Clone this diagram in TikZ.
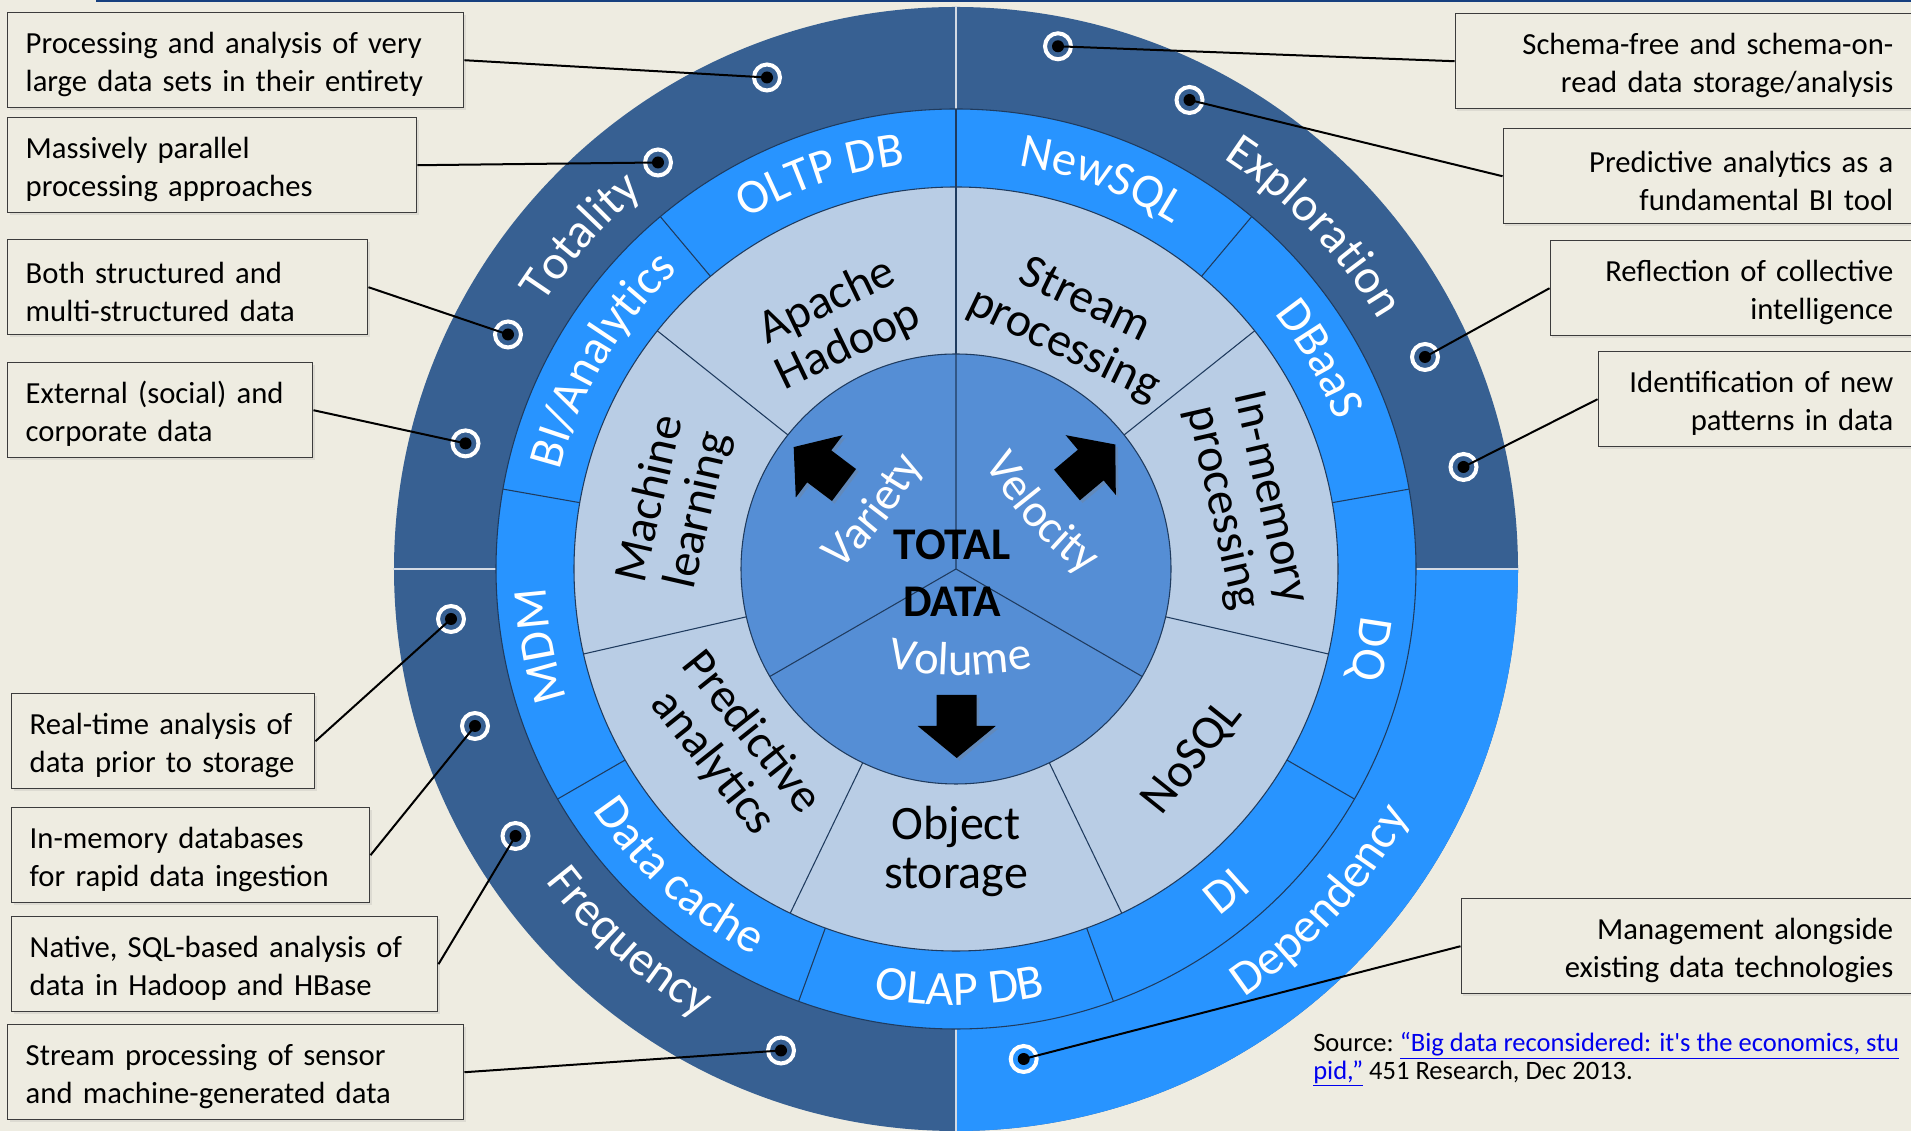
\documentclass[tikz,border=0pt]{standalone}
\usepackage{fontspec}
\setmainfont{Carlito}
\newfontfamily\srcfamily{Carlito}[Ligatures=TeXOff]
\usetikzlibrary{decorations.text,shadows}

\definecolor{bgtan}{HTML}{EEECE1}
\definecolor{ringdark}{HTML}{376092}
\definecolor{ringbright}{HTML}{2894FF}
\definecolor{ringlight}{HTML}{B9CDE5}
\definecolor{core}{HTML}{558ED5}
\definecolor{edge}{HTML}{1F3B5E}
\definecolor{gapcol}{HTML}{D3DAE4}
\definecolor{topbar}{HTML}{17407F}
\definecolor{boxedge}{HTML}{3C3C3C}
\definecolor{linkblue}{HTML}{0000EE}

\newcommand\boxfont{\fontsize{23}{28.5}\selectfont}
\newcommand\ringfont{\fontsize{36.5}{36.5}\selectfont}
\newcommand\segfont{\fontsize{36}{36.75}\selectfont}
\newcommand\corefont{\fontsize{34}{43}\selectfont\bfseries}
\newcommand\vfont{\fontsize{35}{35}\selectfont}
\newcommand\srcfont{\srcfamily\fontsize{19.9}{21}\selectfont}

% block arrow: tail at (#1,#2), pointing along angle #3
\newcommand\blockarrow[3]{%
  \fill[black, drop shadow={opacity=0.3, shadow xshift=2pt, shadow yshift=-2pt},
        shift={(#1,#2)}, rotate=#3]
    (0,-20) -- (31,-20) -- (31,-39) -- (63,0) -- (31,39) -- (31,20) -- (0,20) -- cycle;}

\tikzset{
  lbox/.style={draw=boxedge, line width=1.1pt, fill=bgtan, inner xsep=13.5pt,
    inner ysep=0pt, minimum height=71.25pt, align=left, font=\boxfont,
    anchor=north west, execute at begin node={\rule{0pt}{22.5pt}},
    drop shadow={opacity=0.15, shadow xshift=1.5pt, shadow yshift=-1.5pt}},
  rbox/.style={lbox, align=right, anchor=north east},
  dotring/.style={circle, draw=white, line width=3pt, fill=ringdark,
    minimum size=19.5pt, inner sep=0pt},
  conn/.style={draw=black, line width=1.5pt},
  divider/.style={draw=edge, line width=0.8pt},
  gapline/.style={draw=gapcol, line width=1.9pt},
  ringtext/.style={decorate, decoration={text along path, text align=center,
    text={|\ringfont\color{white}|#1}}},
  coretext/.style={decorate, decoration={text along path, text align=center,
    text={|\vfont\color{white}|#1}}},
  segtext/.style={font=\segfont, align=center, inner sep=0pt},
}

\begin{document}
\begin{tikzpicture}[x=0.75pt,y=0.75pt]
\useasboundingbox (0,0) rectangle (1911,1131);
\clip (0,0) rectangle (1911,1131);
\fill[bgtan] (0,0) rectangle (1911,1131);
\fill[topbar] (96,1128.5) rectangle (1911,1131);

% ---------------- wheel ----------------
\begin{scope}[shift={(956,562)}]
  % outer ring quadrants
  \fill[ringdark] (0,0) circle[radius=562];
  \fill[ringbright] (0,0) -- (0:562) arc[start angle=0, end angle=-90, radius=562] -- cycle;
  \foreach \a in {0,90,180,270} \draw[gapline] (\a:450) -- (\a:563);
  % technology ring
  \fill[ringbright, divider] (0,0) circle[radius=460];
  % application ring
  \fill[ringlight, divider] (0,0) circle[radius=382];
  % core
  \fill[core, divider] (0,0) circle[radius=215];
  % dividers
  \foreach \a in {90,50,10,-30,-70,-110,-150,170,130}
    \draw[divider] (\a:382) -- (\a:460);
  \foreach \k in {0,...,6}
    \draw[divider] ({90+\k*360/7}:215) -- ({90+\k*360/7}:382);
  \draw[divider] (0,0) -- (90:215) (0,0) -- (-30:215) (0,0) -- (210:215);

  % outer ring labels
  \path[ringtext={Totality}] (183.5:490) arc[start angle=183.5, end angle=93.5, radius=490];
  \path[ringtext={Exploration}] (88.7:490) arc[start angle=88.7, end angle=-1.3, radius=490];
  \path[ringtext={Frequency}] (183.8:516) arc[start angle=183.8, end angle=273.8, radius=516];
  \path[ringtext={Dependency}] (-87.3:516) arc[start angle=-87.3, end angle=2.7, radius=516];

  % technology ring labels
  \path[ringtext={OLTP DB}] (139:408) arc[start angle=139, end angle=79, radius=408];
  \path[ringtext={NewSQL}] (99.5:408) arc[start angle=99.5, end angle=39.5, radius=408];
  \path[ringtext={DBaaS}] (60:408) arc[start angle=60, end angle=0, radius=408];
  \path[ringtext={DQ}] (19:408) arc[start angle=19, end angle=-41, radius=408];
  \path[ringtext={DI}] (-80:436) arc[start angle=-80, end angle=-20, radius=436];
  \path[ringtext={OLAP DB}] (-119.5:436) arc[start angle=-119.5, end angle=-59.5, radius=436];
  \path[ringtext={Data cache}] (198:436) arc[start angle=198, end angle=258, radius=436];
  \path[ringtext={MDM}] (220.5:410) arc[start angle=220.5, end angle=160.5, radius=410];
  \path[ringtext={BI/Analytics}] (179.5:408) arc[start angle=179.5, end angle=119.5, radius=408];

  % application ring labels
  \node[segtext, rotate=25.7] (hadoop) at (115.7:272) {Apache\\Hadoop};
  \node[segtext, rotate=-25.7] (stream) at (64.3:272) {Stream\\processing};
  \node[segtext, rotate=-77.14] (inmem) at (12.86:297) {In-memory\\processing};
  \node[segtext, rotate=51.43] (nosql) at (-38.57:303) {NoSQL};
  \node[segtext] (objstore) at (-90:282) {Object\\storage};
  \node[segtext, rotate=-51.43] (predict) at (218.57:287) {Predictive\\analytics};
  \node[segtext, rotate=77.14] (mlearn) at (167.14:288) {Machine\\learning};
\end{scope}

% ---------------- core ----------------
\blockarrow{844}{646}{143}
\blockarrow{1067}{646}{40}
\blockarrow{956.7}{436}{-90}
\node[font=\corefont, align=center, inner sep=0pt] (total) at (952,558) {TOTAL\\DATA};
% the three V words, gently arched
\begin{scope}[shift={(610,825.3)}]
  \path[coretext={Variety}] (-68:350) arc[start angle=-68, end angle=-8, radius=350];
\end{scope}
\begin{scope}[shift={(1289,840.2)}]
  \path[coretext={Velocity}] (192:350) arc[start angle=192, end angle=252, radius=350];
\end{scope}
\begin{scope}[shift={(960,806)}]
  \path[coretext={Volume}] (240:350) arc[start angle=240, end angle=300, radius=350];
\end{scope}

% ---------------- call-out boxes ----------------
\node[lbox, text width=315pt] (b1) at (7,1119)
  {\mbox{Processing and analysis of very}\\\mbox{large data sets in their entirety}};
\node[lbox, text width=279.75pt] (b2) at (7,1014)
  {\mbox{Massively parallel}\\\mbox{processing approaches}};
\node[lbox, text width=243pt] (b3) at (7,892)
  {\mbox{Both structured and}\\\mbox{multi-structured data}};
\node[lbox, text width=201.75pt] (b4) at (7,769)
  {\mbox{External (social) and}\\\mbox{corporate data}};
\node[lbox, text width=200.25pt] (b5) at (11,438)
  {\mbox{Real-time analysis of}\\\mbox{data prior to storage}};
\node[lbox, text width=241.5pt] (b6) at (11,324)
  {\mbox{In-memory databases}\\\mbox{for rapid data ingestion}};
\node[lbox, text width=292.5pt] (b7) at (11,215)
  {\mbox{Native, SQL-based analysis of}\\\mbox{data in Hadoop and HBase}};
\node[lbox, text width=315pt] (b8) at (7,107)
  {\mbox{Stream processing of sensor}\\\mbox{and machine-generated data}};

\node[rbox, text width=315pt] (r1) at (1912,1118)
  {\mbox{Schema-free and schema-on-}\\\mbox{read data storage/analysis}};
\node[rbox, text width=279pt] (r2) at (1912,1003)
  {\mbox{Predictive analytics as a}\\\mbox{fundamental BI tool}};
\node[rbox, text width=243.75pt] (r3) at (1912,891)
  {\mbox{Reflection of collective}\\\mbox{intelligence}};
\node[rbox, text width=207.75pt] (r4) at (1912,780)
  {\mbox{Identification of new}\\\mbox{patterns in data}};
\node[rbox, text width=310.5pt] (r5) at (1912,233)
  {\mbox{Management alongside}\\\mbox{existing data technologies}};

% ---------------- markers ----------------
\node[dotring] (d1) at (767,1053.5) {};
\node[dotring] (d2) at (658,968.5) {};
\node[dotring] (d3) at (508,796.5) {};
\node[dotring] (d4) at (465.5,687.6) {};
\node[dotring] (d5) at (451,512) {};
\node[dotring] (d6) at (475,405) {};
\node[dotring] (d7) at (515.5,295) {};
\node[dotring] (d8) at (781,80.5) {};
\node[dotring] (d9) at (1058,1084.7) {};
\node[dotring] (d10) at (1189.5,1031) {};
\node[dotring] (d11) at (1425,774) {};
\node[dotring] (d12) at (1463.5,664) {};
\node[dotring, fill=ringbright] (d13) at (1023.7,72) {};

% ---------------- connectors ----------------
\draw[conn] (b1.east) -- (d1.center);
\draw[conn] (b2.east) -- (d2.center);
\draw[conn] (b3.east) -- (d3.center);
\draw[conn] (b4.east) -- (d4.center);
\draw[conn] (b5.east) -- (d5.center);
\draw[conn] (b6.east) -- (d6.center);
\draw[conn] (b7.east) -- (d7.center);
\draw[conn] (b8.east) -- (d8.center);
\draw[conn] (r1.west) -- (d9.center);
\draw[conn] (r2.west) -- (d10.center);
\draw[conn] (r3.west) -- (d11.center);
\draw[conn] (r4.west) -- (d12.center);
\draw[conn] (r5.west) -- (d13.center);
\foreach \d in {d1,d2,d3,d4,d5,d6,d7,d8,d9,d10,d11,d12,d13}
  \fill[black] (\d.center) circle[radius=6];

% ---------------- source ----------------
\node[anchor=north west, inner sep=0pt, align=left, font=\srcfont] (src) at (1313,99)
  {Source:\ {\color{linkblue}\underline{“Big data reconsidered: it's the economics, stu}}\\
   {\color{linkblue}\underline{pid,”}} 451 Research, Dec 2013.};
\end{tikzpicture}
\end{document}
